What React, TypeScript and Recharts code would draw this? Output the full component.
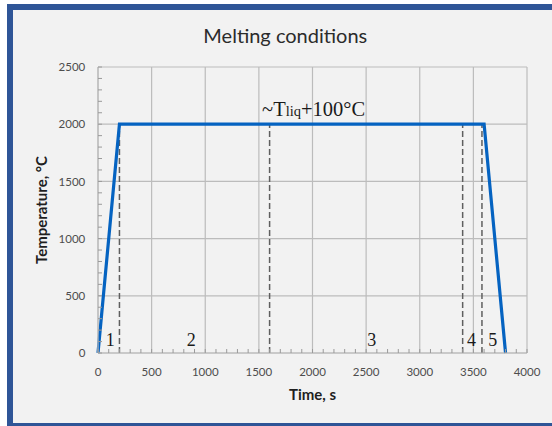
import React from 'react';
import { ComposedChart, Line, XAxis, YAxis, ReferenceLine, Scatter } from 'recharts';

// Heating profile
const profileTime = [0, 200, 3600, 3800];
const profileTemp = [0, 2000, 2000, 0];

// Stage boundaries (dashed lines) up to the plateau
const stageBoundaries = [200, 1600, 3400, 3580];
const plateauTemp = 2000;

// Stage numbers
const stageNames = ['1', '2', '3', '4', '5'];
const stageLabelTime = [115, 870, 2553, 3482, 3680];
const stageLabelTemp = 60;

// Annotation
const annotationTime = 1530;
const annotationTemp = 2070;

// Axes
const gridTime = [0, 500, 1000, 1500, 2000, 2500, 3000, 3500, 4000];
const gridTemp = [0, 500, 1000, 1500, 2000, 2500];
const minorTime = [0, 100, 200, 300, 400, 500, 600, 700, 800, 900, 1000, 1100, 1200, 1300, 1400, 1500, 1600, 1700, 1800, 1900, 2000, 2100, 2200, 2300, 2400, 2500, 2600, 2700, 2800, 2900, 3000, 3100, 3200, 3300, 3400, 3500, 3600, 3700, 3800, 3900, 4000];
const minorTemp = [0, 100, 200, 300, 400, 500, 600, 700, 800, 900, 1000, 1100, 1200, 1300, 1400, 1500, 1600, 1700, 1800, 1900, 2000, 2100, 2200, 2300, 2400, 2500];

const profile = profileTime.map((x, i) => ({ x, y: profileTemp[i] }));
const stageLabels = stageNames.map((name, i) => ({ x: stageLabelTime[i], y: stageLabelTemp, name }));
const annotation = [{ x: annotationTime, y: annotationTemp }];

const SANS = 'Lato, "Open Sans", sans-serif';
const SERIF = '"Liberation Serif", "DejaVu Serif", serif';
const GRID = '#BCBCBC';

const XTick = (props: any) => {
  const { x, y, payload } = props;
  const v = payload.value;
  return (
    <g>
      <line x1={x} x2={x} y1={y} y2={y - 4} stroke="#9A9A9A" strokeWidth={1} />
      {gridTime.includes(v) && (
        <text x={x} y={y + 23.4} textAnchor="middle" fontFamily={SANS} fontSize={11.5} fill="#4D4D4D">
          {v}
        </text>
      )}
    </g>
  );
};

const YTick = (props: any) => {
  const { x, y, payload } = props;
  const v = payload.value;
  return (
    <g>
      <line x1={x} x2={x + 4} y1={y} y2={y} stroke="#9A9A9A" strokeWidth={1} />
      {gridTemp.includes(v) && (
        <text x={x - 12.7} y={y + 4.1} textAnchor="end" fontFamily={SANS} fontSize={11.5} fill="#4D4D4D">
          {v}
        </text>
      )}
    </g>
  );
};

const StageShape = (p: any) => (
  <text x={p.cx} y={p.cy} textAnchor="middle" fontFamily={SERIF} fontSize={18} fill="#1A1A1A">
    {p.payload.name}
  </text>
);

const AnnotationShape = (p: any) => (
  <text x={p.cx} y={p.cy} textAnchor="start" fontFamily={SERIF} fontSize={20.5} fill="#1A1A1A">
    ~T<tspan fontSize={14.5}>liq</tspan>+100°C
  </text>
);

export default function App() {
  return (
    <div style={{ position: 'absolute', left: 0, top: 0, width: 552, height: 426, overflow: 'hidden', background: '#FFFFFF' }}>
      <div
        style={{
          position: 'absolute',
          left: 7,
          top: 4,
          width: 560,
          height: 425,
          boxSizing: 'border-box',
          border: '6px solid #2F5597',
          background: '#F2F2F2',
        }}
      />
      <div style={{ position: 'absolute', left: 0, top: 0 }}>
        <ComposedChart width={552} height={426} margin={{ top: 67, right: 25, left: 38, bottom: 43 }}>
          {gridTime.map((t) => (
            <ReferenceLine key={`gx${t}`} x={t} stroke={GRID} strokeWidth={1.2} />
          ))}
          {gridTemp.map((v) => (
            <ReferenceLine key={`gy${v}`} y={v} stroke={GRID} strokeWidth={1.2} />
          ))}
          <XAxis
            dataKey="x"
            type="number"
            domain={[0, 4000]}
            ticks={minorTime}
            interval={0}
            tick={XTick}
            tickSize={0}
            tickMargin={0}
            tickLine={false}
            axisLine={{ stroke: GRID, strokeWidth: 1.2 }}
            height={30}
            label={{ value: 'Time, s', position: 'bottom', offset: 6, fontFamily: SANS, fontSize: 15, fontWeight: 700, fill: '#1F1F1F' }}
          />
          <YAxis
            type="number"
            domain={[0, 2500]}
            ticks={minorTemp}
            interval={0}
            tick={YTick}
            tickSize={0}
            tickMargin={0}
            tickLine={false}
            axisLine={{ stroke: GRID, strokeWidth: 1.2 }}
            width={60}
            label={{
              value: 'Temperature, °C',
              angle: -90,
              position: 'insideLeft',
              offset: 4,
              fontFamily: SANS,
              fontSize: 15,
              fontWeight: 700,
              fill: '#1F1F1F',
              style: { textAnchor: 'middle' },
            }}
          />
          {stageBoundaries.map((t) => (
            <ReferenceLine
              key={t}
              segment={[{ x: t, y: 0 }, { x: t, y: plateauTemp }]}
              stroke="#5F5F5F"
              strokeWidth={1.5}
              strokeDasharray="6 3"
            />
          ))}
          <Line
            data={profile}
            dataKey="y"
            type="linear"
            stroke="#0563C1"
            strokeWidth={3.2}
            dot={false}
            activeDot={false}
            isAnimationActive={false}
          />
          <Scatter data={stageLabels} dataKey="y" shape={StageShape} isAnimationActive={false} />
          <Scatter data={annotation} dataKey="y" shape={AnnotationShape} isAnimationActive={false} />
          <text x={285.3} y={42.7} textAnchor="middle" fontFamily={SANS} fontSize={20} fill="#2B2B2B">
            Melting conditions
          </text>
        </ComposedChart>
      </div>
    </div>
  );
}
